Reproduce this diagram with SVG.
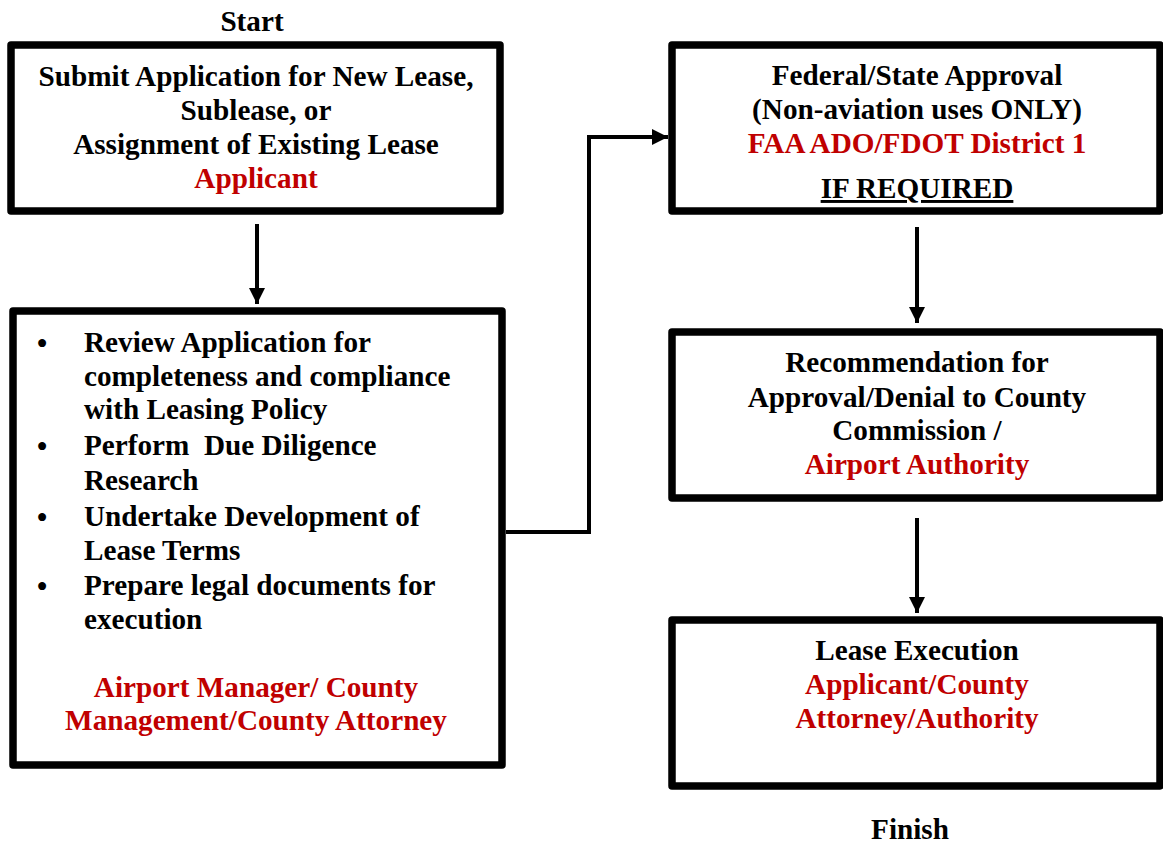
<svg xmlns="http://www.w3.org/2000/svg" width="1163" height="845" viewBox="0 0 1163 845">
<defs>
<marker id="ah" markerWidth="4" markerHeight="4" refX="4" refY="2" orient="auto" markerUnits="strokeWidth">
<path d="M0,0 L4,2 L0,4 Z" fill="#000"/>
</marker>
<style>
.box{fill:#fff;stroke:#000;stroke-width:7.5;stroke-linejoin:round}
.t{font-family:"Liberation Serif","Times New Roman",serif;font-weight:bold;font-size:29.2px;fill:#000}
.c{text-anchor:middle}
.r{fill:#c00000}
.conn{fill:none;stroke:#000;stroke-width:4}
</style>
</defs>
<rect width="1163" height="845" fill="#fff"/>
<text class="t c" x="252" y="31">Start</text>
<text class="t c" x="910" y="839">Finish</text>
<g id="connectors">
<line class="conn" x1="257" y1="224" x2="257" y2="304" marker-end="url(#ah)"/>
<polyline class="conn" points="506,532 589,532 589,137 668,137" marker-end="url(#ah)"/>
<line class="conn" x1="917" y1="227" x2="917" y2="323" marker-end="url(#ah)"/>
<line class="conn" x1="917" y1="518" x2="917" y2="613" marker-end="url(#ah)"/>
</g>
<g id="submit">
<rect class="box" x="11" y="45" width="489" height="166"/>
<text class="t c" x="256" y="86">Submit Application for New Lease,</text>
<text class="t c" x="256" y="120">Sublease, or</text>
<text class="t c" x="256" y="154">Assignment of Existing Lease</text>
<text class="t c r" x="256" y="188">Applicant</text>
</g>
<g id="review">
<rect class="box" x="13" y="311" width="489" height="454"/>
<g class="t">
<text x="42" y="353" text-anchor="middle">•</text>
<text x="84" y="352">Review Application for</text>
<text x="84" y="386">completeness and compliance</text>
<text x="84" y="419">with Leasing Policy</text>
<text x="42" y="456" text-anchor="middle">•</text>
<text x="84" y="455" xml:space="preserve">Perform  Due Diligence</text>
<text x="84" y="490">Research</text>
<text x="42" y="527" text-anchor="middle">•</text>
<text x="84" y="526">Undertake Development of</text>
<text x="84" y="560">Lease Terms</text>
<text x="42" y="596" text-anchor="middle">•</text>
<text x="84" y="595">Prepare legal documents for</text>
<text x="84" y="629">execution</text>
</g>
<text class="t c r" x="256" y="697">Airport Manager/ County</text>
<text class="t c r" x="256" y="730">Management/County Attorney</text>
</g>
<g id="federal">
<rect class="box" x="672" y="45" width="488" height="166"/>
<text class="t c" x="917" y="85">Federal/State Approval</text>
<text class="t c" x="917" y="119">(Non-aviation uses ONLY)</text>
<text class="t c r" x="917" y="153">FAA ADO/FDOT District 1</text>
<text class="t c" x="917" y="198" text-decoration="underline">IF REQUIRED</text>
</g>
<g id="recommend">
<rect class="box" x="672" y="332" width="488" height="166"/>
<text class="t c" x="917" y="372">Recommendation for</text>
<text class="t c" x="917" y="407">Approval/Denial to County</text>
<text class="t c" x="917" y="440">Commission /</text>
<text class="t c r" x="917" y="474">Airport Authority</text>
</g>
<g id="execution">
<rect class="box" x="672" y="620" width="488" height="166"/>
<text class="t c" x="917" y="660">Lease Execution</text>
<text class="t c r" x="917" y="694">Applicant/County</text>
<text class="t c r" x="917" y="728">Attorney/Authority</text>
</g>
</svg>
